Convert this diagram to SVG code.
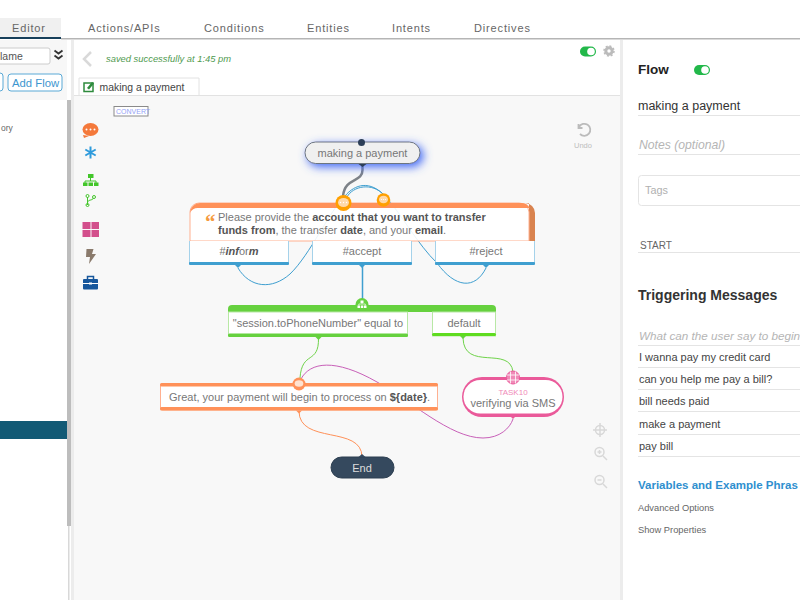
<svg xmlns="http://www.w3.org/2000/svg" width="800" height="600" viewBox="0 0 800 600">
<defs>
<filter id="glow" x="-30%" y="-100%" width="170%" height="340%"><feGaussianBlur in="SourceAlpha" stdDeviation="5"/><feOffset dx="3" dy="3"/><feFlood flood-color="#3f68f5" flood-opacity="1" result="f"/><feComposite in="f" in2="SourceGraphic" operator="over"/></filter>
<filter id="glow2" x="-30%" y="-100%" width="170%" height="340%"><feDropShadow dx="3" dy="3" stdDeviation="5" flood-color="#3f68f5" flood-opacity="1"/></filter>
</defs>
<style>
text{font-family:"Liberation Sans",Arial,sans-serif;fill:#777}
.tab{font-size:11px;letter-spacing:.85px;fill:#666}
.n{font-size:11px;fill:#777}
.nb{font-weight:bold;fill:#555}
.c{fill:none;stroke-width:1}
.rt{font-size:11px;fill:#444}
.rl{fill:none;stroke:#e4e4e4}
.dot{fill:#fff}
</style>
<rect width="800" height="600" fill="#fff"/>
<rect x="0" y="18" width="61" height="20" fill="#f0f0f0"/>
<rect x="0" y="37" width="61" height="2" fill="#173f5a"/>
<rect x="61" y="38" width="739" height="1.500" fill="#b5b5b5"/>
<text class="tab" x="12" y="32">Editor</text>
<text class="tab" x="88" y="32">Actions/APIs</text>
<text class="tab" x="204" y="32">Conditions</text>
<text class="tab" x="307" y="32">Entities</text>
<text class="tab" x="392" y="32">Intents</text>
<text class="tab" x="474" y="32">Directives</text>

<!-- left panel -->
<rect x="0" y="40" width="67" height="60" fill="#f7f7f7"/>
<rect x="-10" y="48" width="60" height="16" rx="2" fill="#fff" stroke="#ccc"/>
<text x="0" y="60" font-size="10.500" style="fill:#555">lame</text>
<path d="M54.500 50.500l4 3 4-3M54.500 55.500l4 3 4-3" fill="none" stroke="#333" stroke-width="1.800"/>
<rect x="-10" y="73" width="13" height="18" rx="3" fill="#fff" stroke="#5aa9d6"/>
<rect x="8" y="74" width="54" height="17" rx="3" fill="#fff" stroke="#5aa9d6"/>
<text x="12" y="87" font-size="11.300" style="fill:#3d96cf">Add Flow</text>
<text x="1" y="131" font-size="8.500" style="fill:#666">ory</text>
<rect x="67" y="100" width="4" height="426" fill="#bdbdbd"/>
<rect x="0" y="421" width="67" height="18" fill="#125a75"/>
<rect x="68" y="526" width="1.500" height="74" fill="#d8d8d8"/>

<!-- canvas -->
<rect x="74" y="96" width="546" height="504" fill="#f8f8f8"/>
<rect x="71" y="40" width="3" height="560" fill="#ececec"/>
<rect x="620" y="40" width="3" height="560" fill="#ececec"/>
<path d="M91 52l-7 7 7 7" fill="none" stroke="#d9d9d9" stroke-width="2.500"/>
<text x="106" y="62" font-size="9.400" font-style="italic" style="fill:#4f9a4f">saved successfully at 1:45 pm</text>
<path d="M79 95.500V78h120v17.500" fill="#fff" stroke="#e2e2e2"/>
<rect x="74" y="95" width="546" height="1" fill="#e2e2e2"/>
<rect x="84" y="83" width="9" height="8.500" fill="none" stroke="#2e8b3d" stroke-width="1.500"/>
<path d="M87 88l5-6 2 1.500-5 6z" fill="#2e8b3d"/>
<text x="99.500" y="91" font-size="10.400" style="fill:#444">making a payment</text>
<rect x="114" y="106.500" width="34" height="9.500" fill="#fff" stroke="#8a8a8a"/>
<text x="116" y="114" font-size="7" style="fill:#93a2f5">CONVERT</text>

<!-- palette -->
<g id="palette">
<ellipse cx="90.500" cy="129.500" rx="8" ry="6.500" fill="#f4793b"/><path d="M83 135l1 3 5-2z" fill="#f4793b"/>
<circle cx="86.500" cy="129.500" r="1" fill="#fff"/><circle cx="90.500" cy="129.500" r="1" fill="#fff"/><circle cx="94.500" cy="129.500" r="1" fill="#fff"/>
<path d="M90.500 146.500v12M85.300 149.500l10.400 6M85.300 155.500l10.400-6" stroke="#2f9bdc" stroke-width="2"/>
<rect x="88" y="174" width="5.500" height="4" fill="#43c62a"/><path d="M90.500 178v3M85 184v-3h11v3" fill="none" stroke="#43c62a"/>
<rect x="83" y="182.500" width="4.500" height="3.500" fill="#43c62a"/><rect x="88.500" y="182.500" width="4.500" height="3.500" fill="#43c62a"/><rect x="94" y="182.500" width="4.500" height="3.500" fill="#43c62a"/>
<path d="M87.500 197v8M87.500 203c0-4 5-2 6-5" fill="none" stroke="#43c62a"/><circle cx="87.500" cy="196" r="1.500" fill="none" stroke="#43c62a"/><circle cx="87.500" cy="205" r="1.500" fill="none" stroke="#43c62a"/><circle cx="94" cy="197" r="1.500" fill="none" stroke="#43c62a"/>
<rect x="82.500" y="222" width="8" height="7" fill="#d34f8c"/><rect x="91.500" y="222" width="7.500" height="7" fill="#d34f8c"/><rect x="82.500" y="230" width="8" height="7" fill="#d34f8c"/><rect x="91.500" y="230" width="7.500" height="7" fill="#d34f8c"/>
<path d="M86.500 249h7l-1.500 5h4l-7 10 1-7h-4z" fill="#8a7a6c"/>
<rect x="83" y="279" width="15" height="10.500" rx="1" fill="#17579c"/><path d="M87.500 279v-2.500h6v2.500" fill="none" stroke="#17579c" stroke-width="1.500"/><rect x="83" y="283" width="15" height="1" fill="#fff"/><rect x="89" y="282.500" width="3" height="2" fill="#fff"/>
</g>

<!-- connectors -->
<g id="connectors">
<path class="c" d="M238 268C250 288 272 290 290 274C310 255 330 210 345 196C355 184 370 180 385 196C400 212 418 245 437 263C455 288 475 290 486 268" stroke="#3f9fd0"/>
<path class="c" d="M347 197C353 186 372 182 384 195" stroke="#3f9fd0"/>
<path d="M362.500 164V170C362.500 183 345 177 343 196" fill="none" stroke="#7d8288" stroke-width="2.500"/>
<path d="M362.500 266V304" fill="none" stroke="#3f9fd0" stroke-width="1.500"/>
<path class="c" d="M318.500 338C319 365 302 350 300 378" stroke="#6fd34a"/>
<path class="c" d="M463 338C464 372 510 345 513 372" stroke="#6fd34a"/>
<path class="c" d="M301 379C310 362 335 358 377 382C410 400 450 438 483 438C500 438 510 428 513 419" stroke="#c860b8"/>
<path class="c" d="M299 411C299 445 362 425 362 457" stroke="#ff9159"/>
</g>

<!-- start -->
<g id="start">
<rect x="305" y="142" width="115" height="21.500" rx="10.700" fill="#f0f0f0" stroke="#6c7580" filter="url(#glow2)"/>
<text class="n" x="362.500" y="157" text-anchor="middle">making a payment</text>
<circle cx="361.500" cy="142.500" r="3.500" fill="#2c3e57"/>
<path d="M358.500 164h8l-4 3z" fill="#2c3e57"/>
</g>

<!-- message -->
<g id="msg">
<path d="M525 203a10 10 0 0 1 10 10v28H529V203z" fill="#d9834f"/>
<path d="M190 241V212a9 9 0 0 1 9-9h320a10 10 0 0 1 10 9v29z" fill="#fff" fill-opacity=".9" stroke="#ffb090"/>
<path d="M190 213a10 10 0 0 1 10-10h320a10 10 0 0 1 10 5h-331a9 9 0 0 0-9 5z" fill="#ff9159"/>
<text x="205" y="229" font-size="21" font-weight="bold" style="fill:#f59a3e;font-family:'Liberation Serif',serif">“</text>
<text class="n" x="218" y="221">Please provide the <tspan class="nb">account that you want to transfer</tspan></text>
<text class="n" x="218" y="234"><tspan class="nb">funds from</tspan>, the transfer <tspan class="nb">date</tspan>, and your <tspan class="nb">email</tspan>.</text>
<circle cx="343.500" cy="203" r="8" fill="#ffa000"/><ellipse cx="343.500" cy="202.500" rx="5.500" ry="4.500" fill="#ffd9a8"/>
<circle cx="340.500" cy="202.500" r=".7" class="dot"/><circle cx="343.500" cy="202.500" r=".7" class="dot"/><circle cx="346.500" cy="202.500" r=".7" class="dot"/>
<circle cx="383.500" cy="200" r="6.800" fill="#ffa000"/><ellipse cx="383.500" cy="199.500" rx="4.500" ry="3.800" fill="#ffd9a8"/>
<circle cx="381.500" cy="199.500" r=".6" class="dot"/><circle cx="383.500" cy="199.500" r=".6" class="dot"/><circle cx="385.500" cy="199.500" r=".6" class="dot"/>
</g>
<g id="inform">
<path d="M189.500 241v22h99v-22" fill="#fff" stroke="#a5d2ea"/><rect x="189" y="262" width="100" height="3" rx="1" fill="#3f9fd0"/><path d="M235 265h6l-3 3z" fill="#3f9fd0"/>
<text class="n" x="239" y="255" text-anchor="middle">#<tspan font-weight="bold" font-style="italic" style="fill:#555">inf</tspan>or<tspan font-weight="bold" font-style="italic" style="fill:#555">m</tspan></text>
</g>
<g id="accept">
<path d="M312.500 241v22h99v-22" fill="#fff" stroke="#a5d2ea"/><rect x="312" y="262" width="100" height="3" rx="1" fill="#3f9fd0"/><path d="M359 265h6l-3 3z" fill="#3f9fd0"/>
<text class="n" x="362" y="255" text-anchor="middle">#accept</text>
</g>
<g id="reject">
<path d="M435.500 241v22h99v-22" fill="#fff" stroke="#a5d2ea"/><rect x="435" y="262" width="100" height="3" rx="1" fill="#3f9fd0"/><path d="M483 265h6l-3 3z" fill="#3f9fd0"/>
<text class="n" x="486" y="255" text-anchor="middle">#reject</text>
</g>

<!-- branch -->
<g id="branch">
<path d="M232 305h260a4 4 0 0 1 4 4v3H228v-3a4 4 0 0 1 4-4z" fill="#66d13f"/>
<circle cx="362" cy="304.500" r="6.500" fill="#66d13f"/>
<path d="M360.500 300.500h3v2.500h-3zM357.500 305.500h2.500v2.500h-2.500zM360.800 305.500h2.500v2.500h-2.500zM364 305.500h2.500v2.500h-2.500z" fill="#fff"/>
<path d="M358.800 305.500v-1.500h6.500v1.500M362 303v1" fill="none" stroke="#fff" stroke-width=".7"/>
</g>
<g id="cond1">
<rect x="228.500" y="312" width="179" height="24" fill="#fff" stroke="#b8e8a5"/><rect x="228" y="333.500" width="180" height="3.500" rx="1.500" fill="#66d13f"/><path d="M315.500 337h6l-3 3z" fill="#66d13f"/>
<text class="n" x="318" y="327" text-anchor="middle">"session.toPhoneNumber" equal to</text>
</g>
<g id="cond2">
<rect x="432.500" y="312" width="63" height="24" fill="#fff" stroke="#b8e8a5"/><rect x="432" y="333" width="64" height="3" rx="1.500" fill="#5fdc20"/><path d="M460 336h6l-3 3z" fill="#66d13f"/>
<text class="n" x="464" y="327" text-anchor="middle">default</text>
</g>

<!-- response -->
<g id="reply">
<rect x="160.500" y="384" width="277" height="26" rx="2" fill="#fff" stroke="#ffb090"/>
<rect x="160" y="383" width="278" height="3.500" rx="1.500" fill="#ff9159"/><rect x="160" y="407" width="278" height="3.500" rx="1.500" fill="#ff9159"/>
<path d="M296 410.500h6l-3 3z" fill="#ff9159"/>
<circle cx="299" cy="384" r="6.500" fill="#ff9159"/><ellipse cx="299" cy="383.500" rx="4.300" ry="3.300" fill="#ffe2d0"/>
<text class="n" x="169" y="401">Great, your payment will begin to process on <tspan class="nb">${date}</tspan>.</text>
</g>

<!-- task -->
<g id="task">
<rect x="462" y="377" width="102" height="40" rx="20" fill="#ea5a9a"/>
<rect x="463.500" y="380" width="99" height="33.500" rx="16.700" fill="#fff"/>
<path d="M510 416h6l-3 3z" fill="#ea5a9a"/>
<circle cx="513" cy="377.500" r="6.500" fill="#f08ab8" stroke="#ea5a9a"/>
<path d="M510.500 371.500v12M515.500 371.500v12M507 375h12M507 380h12" stroke="#fff" stroke-width=".8"/>
<text x="513" y="395" font-size="8" text-anchor="middle" style="fill:#f08ab8">TASK10</text>
<text class="n" x="513" y="407" text-anchor="middle">verifying via SMS</text>
</g>

<!-- end -->
<g id="end">
<rect x="331" y="457" width="63" height="21" rx="10.500" fill="#35495e" stroke="#2c3e50"/>
<path d="M358.500 457h7l-3.500-3z" fill="#35495e"/>
<text x="362" y="472" font-size="11" text-anchor="middle" style="fill:#ddd">End</text>
</g>

<!-- controls -->
<g fill="none" stroke="#d8d8d8" stroke-width="1.500">
<circle cx="600" cy="430" r="4.500"/><path d="M600 423v14M593 430h14"/>
<circle cx="599.500" cy="452" r="4.500"/><path d="M603 456l4 4M597.500 452h4M599.500 450v4"/>
<circle cx="599.500" cy="480" r="4.500"/><path d="M603 484l4 4M597.500 480h4"/>
</g>
<path d="M579 127a6 6 0 1 1 1 7M578.500 124v4h4" fill="none" stroke="#bbb" stroke-width="1.800"/>
<text x="583" y="148" font-size="7.500" text-anchor="middle" style="fill:#bdbdbd">Undo</text>
<rect x="580" y="46.500" width="16" height="10" rx="5" fill="#22b84a"/><circle cx="591" cy="51.500" r="3.800" fill="#fff"/>
<circle cx="609" cy="51" r="3.200" fill="none" stroke="#bbb" stroke-width="3"/>
<circle cx="609" cy="51" r="5" fill="none" stroke="#bbb" stroke-width="1.500" stroke-dasharray="2 1.900"/>

<!-- right -->
<text x="638" y="74" font-size="13.500" font-weight="bold" style="fill:#222">Flow</text>
<rect x="694" y="65" width="16" height="10" rx="5" fill="#22b84a"/><circle cx="705" cy="70" r="3.800" fill="#fff"/>
<text x="638" y="110" font-size="12.500" style="fill:#333">making a payment</text>
<path class="rl" d="M638 115.500H800"/>
<text x="639" y="149" font-size="12.200" font-style="italic" style="fill:#b5b5b5">Notes (optional)</text>
<path class="rl" d="M638 154.500H800"/>
<rect x="638.500" y="175.500" width="170" height="30" rx="3" fill="#fff" stroke="#e4e4e4"/>
<text x="645" y="194" font-size="10.800" style="fill:#b0b0b0">Tags</text>
<text x="640" y="249" font-size="10" style="fill:#666">START</text>
<path class="rl" d="M638 252.500H800"/>
<text x="638" y="300" font-size="14" font-weight="bold" style="fill:#333">Triggering Messages</text>
<text x="639" y="340" font-size="11.700" font-style="italic" style="fill:#b5b5b5">What can the user say to begin</text>
<path class="rl" d="M638 345.500H800"/>
<text class="rt" x="639" y="361">I wanna pay my credit card</text><path class="rl" d="M638 367.500H800"/>
<text class="rt" x="639" y="383">can you help me pay a bill?</text><path class="rl" d="M638 389.500H800"/>
<text class="rt" x="639" y="405">bill needs paid</text><path class="rl" d="M638 411.500H800"/>
<text class="rt" x="639" y="428">make a payment</text><path class="rl" d="M638 434.500H800"/>
<text class="rt" x="639" y="450">pay bill</text><path class="rl" d="M638 456.500H800"/>
<text x="638" y="489" font-size="11.500" font-weight="bold" style="fill:#2f8fcf">Variables and Example Phras</text>
<text x="638" y="511" font-size="9.300" style="fill:#666">Advanced Options</text>
<text x="638" y="533" font-size="9.300" style="fill:#666">Show Properties</text>
</svg>
